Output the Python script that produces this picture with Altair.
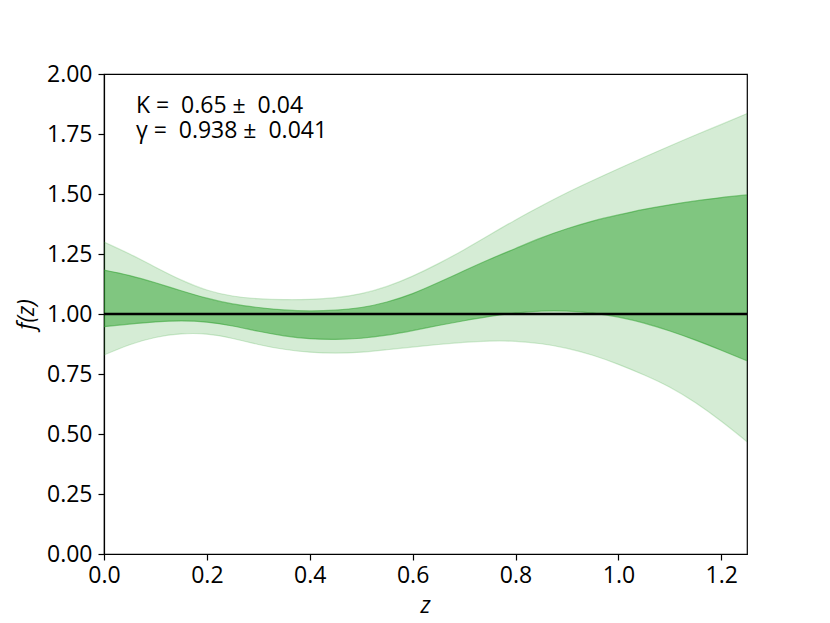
import altair as alt
import pandas as pd

z = [0.0, 0.05, 0.1, 0.15, 0.2, 0.25, 0.3, 0.35, 0.4, 0.45, 0.5, 0.55, 0.6,
     0.65, 0.7, 0.75, 0.8, 0.85, 0.9, 0.95, 1.0, 1.05, 1.1, 1.15, 1.2, 1.25]
outer_hi = [1.300, 1.250, 1.195, 1.142, 1.100, 1.075, 1.064, 1.060, 1.061, 1.068, 1.085, 1.115, 1.158,
            1.210, 1.268, 1.330, 1.392, 1.450, 1.505, 1.556, 1.605, 1.653, 1.700, 1.746, 1.790, 1.835]
inner_hi = [1.183, 1.160, 1.130, 1.097, 1.066, 1.042, 1.027, 1.017, 1.013, 1.016, 1.027, 1.050, 1.085,
            1.131, 1.180, 1.228, 1.273, 1.317, 1.355, 1.387, 1.413, 1.436, 1.455, 1.471, 1.485, 1.496]
inner_lo = [0.947, 0.958, 0.967, 0.971, 0.966, 0.950, 0.928, 0.909, 0.897, 0.894, 0.899, 0.912, 0.931,
            0.952, 0.972, 0.990, 1.004, 1.012, 1.012, 1.004, 0.987, 0.962, 0.929, 0.891, 0.849, 0.805]
outer_lo = [0.829, 0.872, 0.902, 0.917, 0.916, 0.898, 0.873, 0.853, 0.841, 0.837, 0.841, 0.851, 0.862,
            0.873, 0.882, 0.887, 0.886, 0.876, 0.857, 0.828, 0.790, 0.746, 0.695, 0.630, 0.553, 0.468]

ann_lines = ["K =\u00a0 0.65 \u00b1\u00a0 0.04", "\u03b3 =\u00a0 0.938 \u00b1\u00a0 0.041"]
ann_z = [0.062, 0.062]
ann_y = [1.867, 1.762]

x_ticks = [0.0, 0.2, 0.4, 0.6, 0.8, 1.0, 1.2]
y_ticks = [0.0, 0.25, 0.5, 0.75, 1.0, 1.25, 1.5, 1.75, 2.0]

df = pd.DataFrame({"z": z, "outer_hi": outer_hi, "outer_lo": outer_lo,
                   "inner_hi": inner_hi, "inner_lo": inner_lo})
ann = pd.DataFrame({"z": ann_z, "y": ann_y, "t": ann_lines})

FONT = "Open Sans"
FS = 23
GREEN = "#2ca02c"
INTERP = "natural"

xs = alt.Scale(domain=[0, 1.25], nice=False, zero=False)
ys = alt.Scale(domain=[0, 2], nice=False)

xaxis = alt.Axis(values=x_ticks, format=".1f", title="z", titleFontStyle="italic",
                 titleFont=FONT, titleFontSize=FS, titleFontWeight="normal", titleColor="black",
                 labelFont=FONT, labelFontSize=FS, labelColor="black", labelPadding=4,
                 tickColor="black", tickSize=6, tickWidth=1.2, domainColor="black", domainWidth=1.2,
                 grid=False, titleX=321, titleY=51, titleBaseline="middle", titleAlign="center",
                 labelFlush=False)
yaxis = alt.Axis(values=y_ticks, format=".2f", title="f(z)", titleFontStyle="italic",
                 titleFont=FONT, titleFontSize=FS, titleFontWeight="normal", titleColor="black",
                 labelFont=FONT, labelFontSize=FS, labelColor="black", labelPadding=6,
                 tickColor="black", tickSize=6, tickWidth=1.2, domainColor="black", domainWidth=1.2,
                 grid=False, titleX=-78, titleY=240, titleAngle=270, titleBaseline="middle",
                 titleAlign="center", labelFlush=False)

base = alt.Chart(df)
outer = base.mark_area(color=GREEN, opacity=0.2, interpolate=INTERP, clip=True).encode(
    x=alt.X("z:Q", scale=xs, axis=xaxis),
    y=alt.Y("outer_lo:Q", scale=ys, axis=yaxis),
    y2="outer_hi:Q",
)
inner = base.mark_area(color=GREEN, opacity=0.5, interpolate=INTERP, clip=True).encode(
    x=alt.X("z:Q", scale=xs),
    y=alt.Y("inner_lo:Q", scale=ys),
    y2="inner_hi:Q",
)


def edge(col, op):
    return base.mark_line(color=GREEN, opacity=op, strokeWidth=1.2, interpolate=INTERP,
                          clip=True).encode(x=alt.X("z:Q", scale=xs), y=alt.Y(f"{col}:Q", scale=ys))


edges = [edge("outer_hi", 0.2), edge("outer_lo", 0.2), edge("inner_hi", 0.5), edge("inner_lo", 0.5)]

hline = alt.Chart(pd.DataFrame({"y": [1.0]})).mark_rule(color="black", strokeWidth=2.4).encode(
    y=alt.Y("y:Q", scale=ys)
)
text = alt.Chart(ann).mark_text(align="left", baseline="middle", font=FONT, fontSize=FS,
                                color="black").encode(
    x=alt.X("z:Q", scale=xs),
    y=alt.Y("y:Q", scale=ys),
    text="t:N",
)

chart = alt.layer(outer, inner, *edges, hline, text).properties(
    width=643, height=480,
    autosize=alt.AutoSizeParams(type="none"),
    padding={"left": 96, "top": 66, "right": 70, "bottom": 68},
).configure_view(stroke="black", strokeWidth=1.2)

chart.save("out.html", embed_options={"renderer": "svg", "actions": False})
